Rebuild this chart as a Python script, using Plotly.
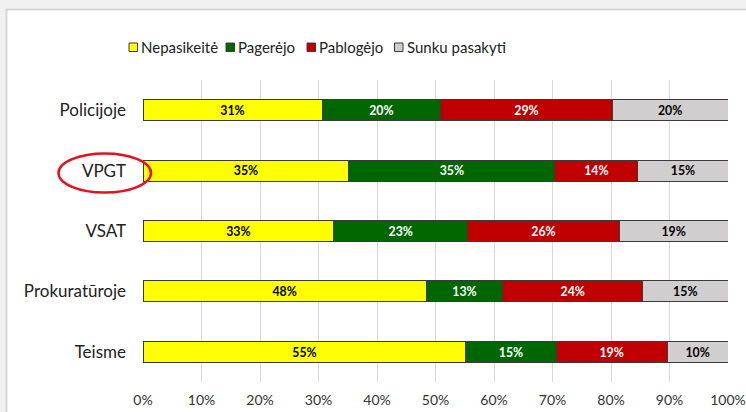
import plotly.graph_objects as go

# ---- data ----
categories = ["Policijoje", "VPGT", "VSAT", "Prokuratūroje", "Teisme"]
series_names = ["Nepasikeitė", "Pagerėjo", "Pablogėjo", "Sunku pasakyti"]
nepasikeite = [30.6, 35.2, 32.6, 48.4, 55.2]
pagerejo = [20.3, 35.2, 22.9, 13.1, 15.4]
pablogejo = [29.3, 14.2, 25.9, 23.9, 19.0]
sunku = [19.8, 15.4, 18.6, 14.6, 10.4]
x_ticks = [0, 10, 20, 30, 40, 50, 60, 70, 80, 90, 100]

series_values = [nepasikeite, pagerejo, pablogejo, sunku]
colors = ["#FFFF00", "#006600", "#C00000", "#D0CECE"]
text_colors = ["#000000", "#FFFFFF", "#FFFFFF", "#000000"]

FONT = "Lato"

# plot area in pixels
W_FIG, H_FIG = 746, 412
L, R, T, B = 143, 728, 80, 382
PW, PH = R - L, B - T


def px2x(px):
    return (px - L) / PW


def px2y(py):
    return (B - py) / PH


fig = go.Figure()
for name, vals, col, tcol in zip(series_names, series_values, colors, text_colors):
    fig.add_trace(go.Bar(
        y=categories, x=vals, name=name, orientation="h",
        marker=dict(color=col, line=dict(color="#3a3a3a", width=1)),
        texttemplate="%{x:.0f}%", textposition="inside",
        insidetextanchor="middle",
        textfont=dict(family=FONT, size=14, color=tcol, weight="bold"),
        showlegend=False,
    ))

shapes = []
annotations = []

# outer frame (white panel with light grey border)
shapes.append(dict(type="rect", xref="paper", yref="paper",
                   x0=px2x(6.5), x1=px2x(770), y0=px2y(430), y1=px2y(9.5),
                   fillcolor="white", line=dict(color="#d6d6d6", width=2),
                   layer="below"))

# manual legend
legend_sq = [129, 226, 307, 394.5]
for name, col, sx in zip(series_names, colors, legend_sq):
    shapes.append(dict(type="rect", xref="paper", yref="paper",
                       x0=px2x(sx), x1=px2x(sx + 8.5),
                       y0=px2y(51.5), y1=px2y(43),
                       fillcolor=col, line=dict(color="#3a3a3a", width=1)))
    annotations.append(dict(xref="paper", yref="paper", x=px2x(sx + 10), y=px2y(47.5),
                            text=name, showarrow=False, xanchor="left", yanchor="middle",
                            font=dict(family=FONT, size=15, color="#222222")))

# red ellipse around VPGT label
shapes.append(dict(type="circle", xref="paper", yref="paper",
                   x0=px2x(58.5), x1=px2x(151), y0=px2y(192.5), y1=px2y(153.5),
                   line=dict(color="#E8101A", width=2.5), fillcolor="rgba(0,0,0,0)",
                   layer="above"))

fig.update_layout(
    width=W_FIG, height=H_FIG,
    margin=dict(l=L, r=W_FIG - R, t=T, b=H_FIG - B, autoexpand=False),
    barmode="stack", bargap=0.653,
    paper_bgcolor="#f1f1f1", plot_bgcolor="white",
    showlegend=False,
    shapes=shapes, annotations=annotations,
    font=dict(family=FONT, color="#222222"),
    uniformtext=dict(minsize=10, mode="show"),
)
fig.update_xaxes(range=[0, 100], tickvals=x_ticks, ticktext=[f"{v}%" for v in x_ticks],
                 showgrid=True, gridcolor="#d9d9d9", gridwidth=1,
                 zeroline=False, showline=False, ticks="",
                 tickfont=dict(family=FONT, size=14, color="#333333"),
                 ticklabelstandoff=8, fixedrange=True)
fig.update_yaxes(categoryorder="array", categoryarray=categories, autorange="reversed",
                 showgrid=False, zeroline=False, showline=False, ticks="",
                 tickfont=dict(family=FONT, size=17, color="#222222"),
                 ticklabelstandoff=16, fixedrange=True)

fig.write_html(
    "out.html",
    config={"displayModeBar": False},
    post_script="document.body.style.margin='0';document.body.style.padding='0';"
                "document.body.style.overflow='hidden';",
)
